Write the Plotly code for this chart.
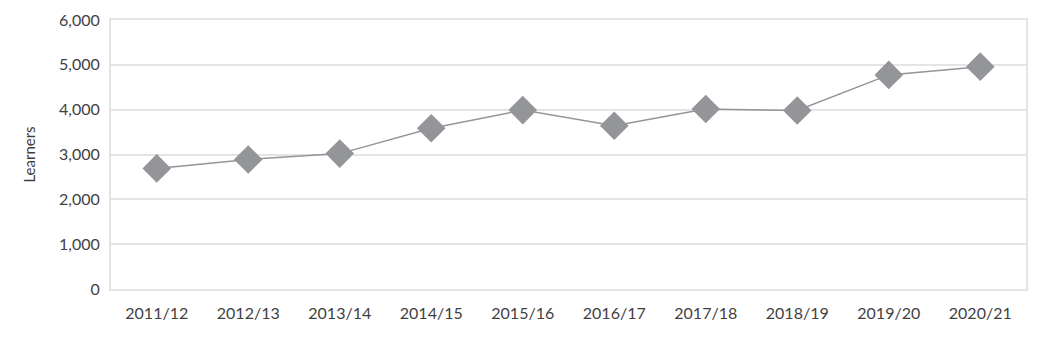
import plotly.graph_objects as go

years = ["2011/12", "2012/13", "2013/14", "2014/15", "2015/16",
         "2016/17", "2017/18", "2018/19", "2019/20", "2020/21"]
learners = [2690, 2890, 3020, 3585, 3990, 3640, 4015, 3980, 4775, 4960]
y_ticks = [0, 1000, 2000, 3000, 4000, 5000, 6000]

grey = "#939598"
grid = "#e4e4e4"
font_family = "Lato, 'Open Sans', sans-serif"

fig = go.Figure()
fig.add_trace(go.Scatter(
    x=years, y=learners, mode="lines+markers",
    line=dict(color=grey, width=1.5),
    marker=dict(symbol="diamond", size=22, color=grey),
    showlegend=False,
))

fig.update_layout(
    width=1029, height=345,
    margin=dict(l=103, r=11, t=12, b=64, autoexpand=False),
    plot_bgcolor="white", paper_bgcolor="white",
    font=dict(family=font_family, size=16, color="#3f3f3f"),
    xaxis=dict(
        type="category", showgrid=False, showline=True, mirror=True,
        linecolor=grid, linewidth=2, ticks="", tickfont=dict(size=16),
        range=[-0.5, 9.5], automargin=False, ticklabelstandoff=9,
    ),
    yaxis=dict(
        range=[0, 6000], tickvals=y_ticks, tickformat=",",
        showgrid=True, gridcolor=grid, gridwidth=2,
        showline=True, mirror=True, linecolor=grid, linewidth=2,
        zeroline=False, ticks="", ticklen=0, automargin=False,
        ticklabelstandoff=6,
        title=dict(text="Learners", font=dict(size=15), standoff=20),
        tickfont=dict(size=16),
    ),
)

fig.write_html("out.html")
